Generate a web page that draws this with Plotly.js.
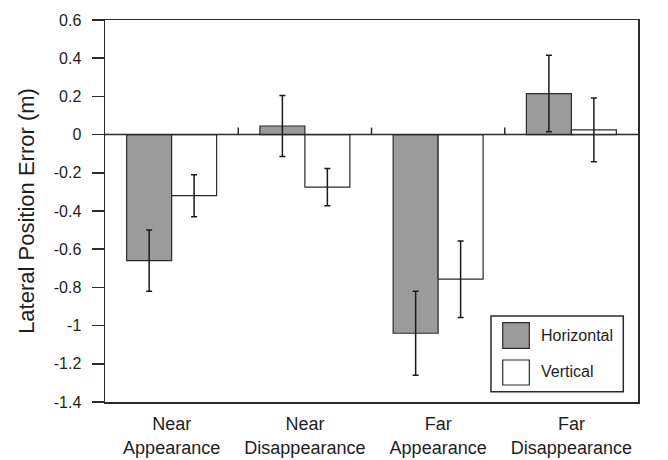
<!DOCTYPE html>
<html>
<head>
<meta charset="utf-8">
<script src="https://cdn.plot.ly/plotly-3.0.1.min.js"></script>
<style>html,body{margin:0;padding:0;background:#fff;}#chart{width:668px;height:460px;}</style>
</head>
<body>
<div id="chart"></div>
<script>
const categories = ["Near<br>Appearance", "Near<br>Disappearance", "Far<br>Appearance", "Far<br>Disappearance"];
const seriesNames = ["Horizontal", "Vertical"];
const horizontalValues = [-0.66, 0.045, -1.04, 0.215];
const horizontalErrors = [0.16, 0.16, 0.22, 0.20];
const verticalValues = [-0.32, -0.275, -0.757, 0.025];
const verticalErrors = [0.11, 0.098, 0.20, 0.167];
const yTickValues = [0.6, 0.4, 0.2, 0, -0.2, -0.4, -0.6, -0.8, -1, -1.2, -1.4];
const yTickLabels = ["0.6", "0.4", "0.2", "0", "-0.2", "-0.4", "-0.6", "-0.8", "-1", "-1.2", "-1.4"];
const categoryBoundaries = [0.5, 1.5, 2.5];

const lineColor = "#2b2b2b";
const font = "Liberation Sans, Arial, Helvetica, sans-serif";
const textColor = "#1e1e1e";

const traces = [
  {
    type: "bar", name: seriesNames[0], x: categories, y: horizontalValues,
    marker: {color: "#9b9b9b", line: {color: lineColor, width: 1.2}},
    error_y: {type: "data", array: horizontalErrors, visible: true, color: "#1a1a1a", thickness: 1.5, width: 3},
    showlegend: false
  },
  {
    type: "bar", name: seriesNames[1], x: categories, y: verticalValues,
    marker: {color: "#ffffff", line: {color: lineColor, width: 1.2}},
    error_y: {type: "data", array: verticalErrors, visible: true, color: "#1a1a1a", thickness: 1.5, width: 3},
    showlegend: false
  }
];

const shapes = [
  {type: "line", xref: "paper", yref: "y", x0: 0, x1: 1, y0: 0, y1: 0, line: {color: lineColor, width: 1.5}}
];
categoryBoundaries.forEach(b => shapes.push({
  type: "line", xref: "x", yref: "y", ysizemode: "pixel", yanchor: 0,
  x0: b, x1: b, y0: 0, y1: 7, line: {color: lineColor, width: 1.5}
}));
// legend box (paper coords)
shapes.push({type: "rect", xref: "paper", yref: "paper", x0: 0.7242, x1: 0.9724, y0: 0.027, y1: 0.2251,
  line: {color: lineColor, width: 1.5}, fillcolor: "rgba(0,0,0,0)"});
shapes.push({type: "rect", xref: "paper", yref: "paper", x0: 0.7462, x1: 0.7961, y0: 0.1406, y1: 0.2076,
  line: {color: lineColor, width: 1.2}, fillcolor: "#9b9b9b"});
shapes.push({type: "rect", xref: "paper", yref: "paper", x0: 0.7462, x1: 0.7961, y0: 0.0445, y1: 0.110,
  line: {color: lineColor, width: 1.2}, fillcolor: "#ffffff"});

const annotations = [
  {xref: "paper", yref: "paper", x: 0.818, y: 0.175, text: seriesNames[0], showarrow: false, xanchor: "left", yanchor: "middle",
   xshift: -2, font: {family: font, size: 16, color: textColor}},
  {xref: "paper", yref: "paper", x: 0.818, y: 0.079, text: seriesNames[1], showarrow: false, xanchor: "left", yanchor: "middle",
   xshift: -2, font: {family: font, size: 16, color: textColor}}
];

const layout = {
  width: 668, height: 460,
  margin: {l: 105, r: 30, t: 20, b: 58},
  paper_bgcolor: "#ffffff", plot_bgcolor: "#ffffff",
  font: {family: font, color: textColor},
  barmode: "group", bargap: 0.325, bargroupgap: 0,
  showlegend: false,
  xaxis: {
    type: "category", showgrid: false, zeroline: false,
    showline: true, linecolor: lineColor, linewidth: 1.5, mirror: true,
    ticks: "", ticklabelstandoff: 5,
    tickfont: {family: font, size: 18, color: textColor},
    range: [-0.5, 3.5]
  },
  yaxis: {
    range: [-1.4, 0.6], tickvals: yTickValues, ticktext: yTickLabels,
    showgrid: false, zeroline: false,
    showline: true, linecolor: lineColor, linewidth: 1.5, mirror: true,
    ticks: "outside", ticklen: 12, tickwidth: 1.5, tickcolor: lineColor,
    ticklabelstandoff: 7,
    tickfont: {family: font, size: 16, color: textColor},
    title: {text: "Lateral Position Error (m)", font: {family: font, size: 22, color: textColor}, standoff: 13}
  },
  shapes: shapes,
  annotations: annotations
};

Plotly.newPlot("chart", traces, layout, {displayModeBar: false, staticPlot: true});
</script>
</body>
</html>
